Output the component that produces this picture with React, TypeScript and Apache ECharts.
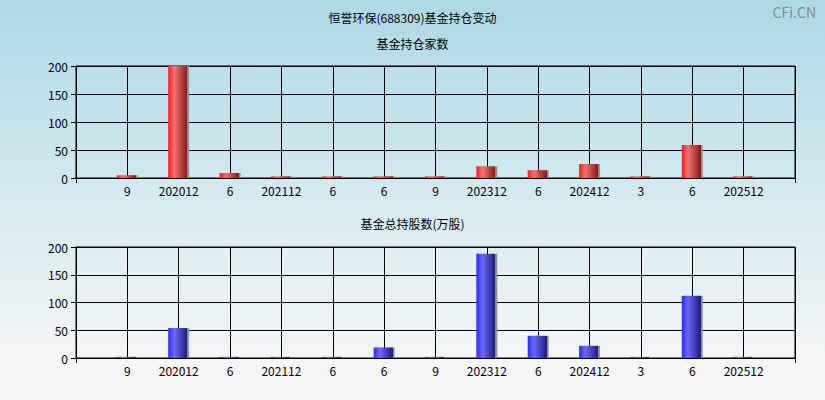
import React, { useEffect, useRef } from "react";
import * as echarts from "echarts";

const categories = ["9", "202012", "6", "202112", "6", "6", "9", "202312", "6", "202412", "3", "6", "202512"];
const fundCount = [5, 200, 9, 3, 3, 3, 3, 21, 14, 25, 3, 59, 3];
const fundShares = [2, 54, 2, 2, 2, 19, 2, 188, 40, 22, 2, 112, 2];
const yTicks = { min: 0, max: 200, interval: 50 };

const padded = ["", ...categories, ""];
const pad = (arr: number[]) => [null, ...arr, null];

const barGradient = (a: string, b: string, c: string) =>
  new echarts.graphic.LinearGradient(0, 0, 1, 0, [
    { offset: 0, color: a },
    { offset: 0.3, color: b },
    { offset: 0.9, color: c },
    { offset: 0.91, color: "#8a8a8a" },
    { offset: 1, color: "#9a9a9a" },
  ]);

export default function App() {
  const ref = useRef<HTMLDivElement>(null);
  useEffect(() => {
    document.body.style.margin = "0";
    const chart = echarts.init(ref.current!, undefined, { renderer: "svg" });
    const font = "'Noto Sans CJK SC', 'Noto Sans', sans-serif";
    const xAxisBase = (gridIndex: number) => ({
      type: "category" as const,
      gridIndex,
      data: padded,
      boundaryGap: false,
      axisLine: { show: true, lineStyle: { color: "#000", width: 1 } },
      axisTick: {
        show: true,
        length: 5,
        lineStyle: { color: "#000" },
        interval: (i: number) => i === 0 || i === padded.length - 1,
      },
      axisLabel: { color: "#000", fontSize: 12, margin: 6, fontFamily: font, interval: 0 },
      splitLine: { show: true, lineStyle: { color: "#000", width: 1 } },
    });
    const yAxisBase = (gridIndex: number) => ({
      type: "value" as const,
      gridIndex,
      ...yTicks,
      axisLine: { show: true, lineStyle: { color: "#000" } },
      axisTick: { show: true, length: 5, lineStyle: { color: "#000" } },
      axisLabel: { color: "#000", fontSize: 12, margin: 8, fontFamily: font },
      splitLine: { show: true, lineStyle: { color: "#000", width: 1 } },
    });
    const titleStyle = { fontSize: 12, fontWeight: "normal", color: "#000", fontFamily: font };
    chart.setOption({
      animation: false,
      backgroundColor: new echarts.graphic.LinearGradient(0, 0, 0, 1, [
        { offset: 0, color: "#add8e6" },
        { offset: 0.5, color: "#d6eaf0" },
        { offset: 1, color: "#fcf8f8" },
      ]),
      textStyle: { fontFamily: font },
      title: [
        { text: "恒誉环保(688309)基金持仓变动", left: "center", top: 6, textStyle: titleStyle },
        { text: "基金持仓家数", left: "center", top: 32, textStyle: titleStyle },
        { text: "基金总持股数(万股)", left: "center", top: 212, textStyle: titleStyle },
        { text: "CFi.CN", right: 4, top: 0, textStyle: { fontSize: 14, fontWeight: "normal", color: "#888", fontFamily: font } },
      ],
      grid: [
        { left: 76, top: 66, width: 719, height: 112, show: true, borderColor: "#000", borderWidth: 1, backgroundColor: "transparent" },
        { left: 76, top: 247, width: 719, height: 111, show: true, borderColor: "#000", borderWidth: 1, backgroundColor: "transparent" },
      ],
      xAxis: [xAxisBase(0), xAxisBase(1)],
      yAxis: [yAxisBase(0), yAxisBase(1)],
      series: [
        {
          type: "bar",
          xAxisIndex: 0,
          yAxisIndex: 0,
          data: pad(fundCount),
          barWidth: 21,
          itemStyle: { color: barGradient("#ff1a1a", "#f27272", "#8a1818") },
        },
        {
          type: "bar",
          xAxisIndex: 1,
          yAxisIndex: 1,
          data: pad(fundShares),
          barWidth: 21,
          itemStyle: { color: barGradient("#2a2aff", "#6a6af2", "#1c1c80") },
        },
      ],
    });
    return () => chart.dispose();
  }, []);
  return <div ref={ref} style={{ width: 825, height: 400 }} />;
}
